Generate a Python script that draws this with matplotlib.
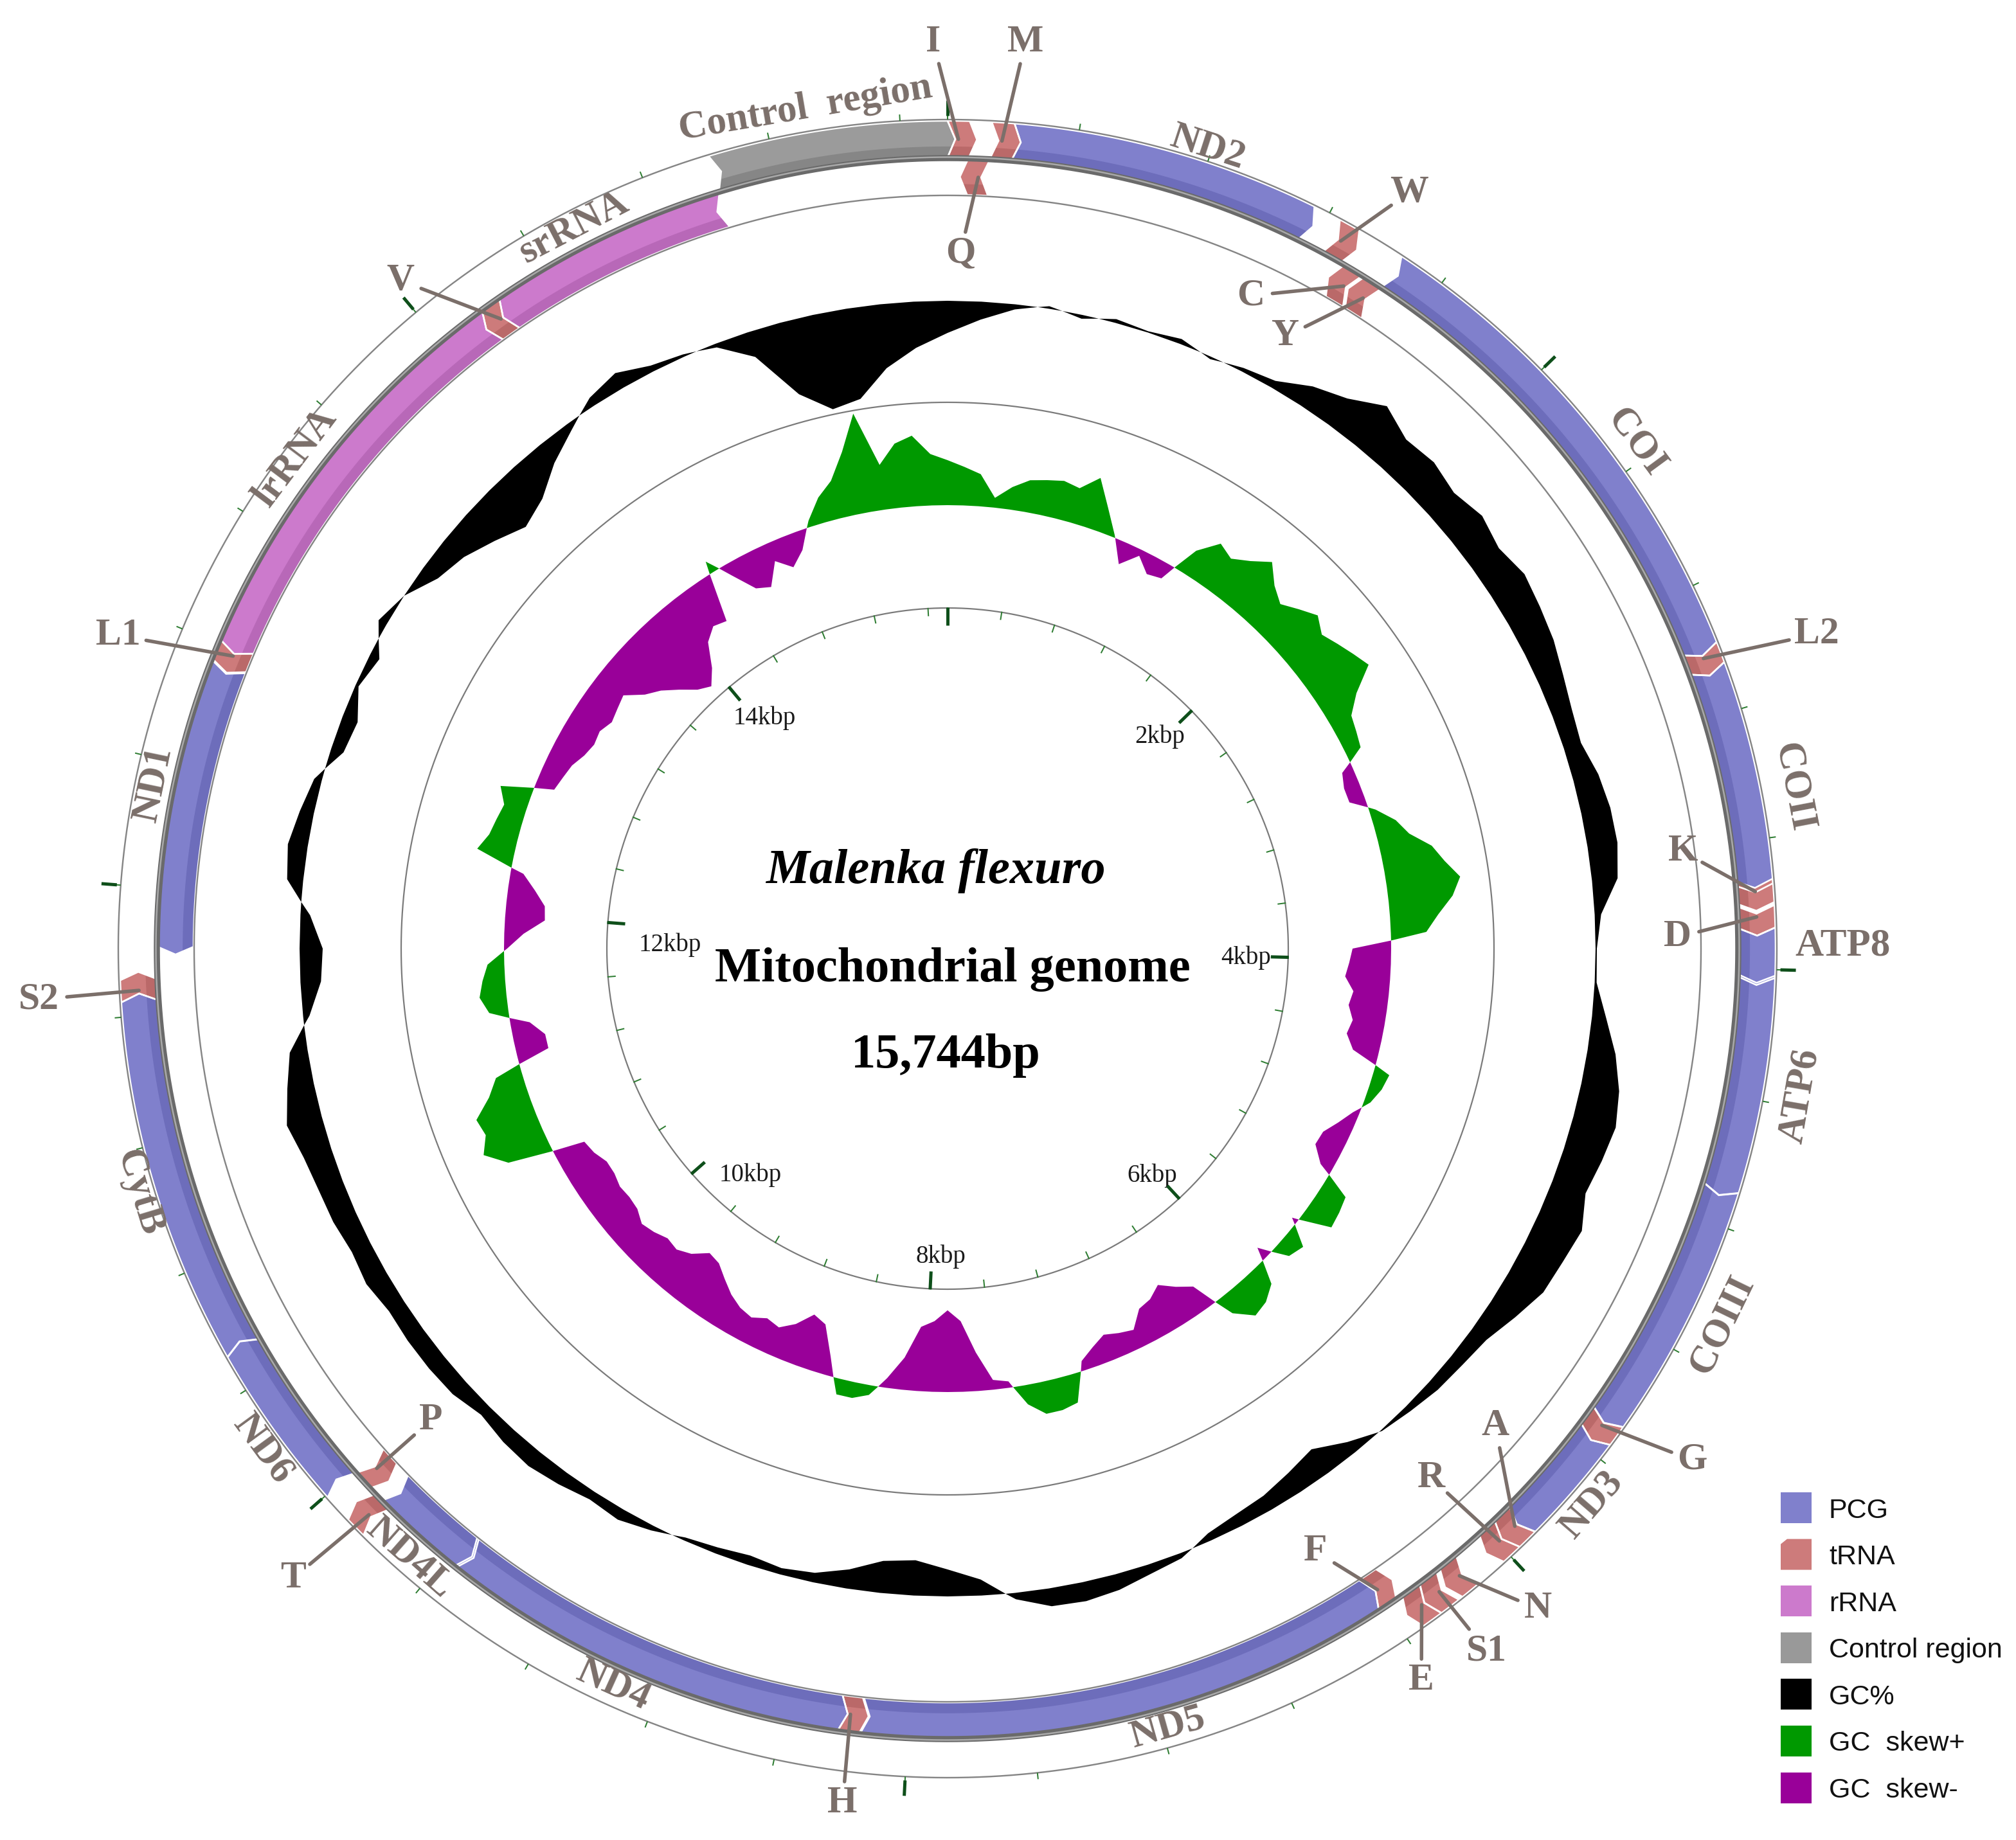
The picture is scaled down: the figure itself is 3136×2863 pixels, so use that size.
import numpy as np
import matplotlib
matplotlib.use("Agg")
import matplotlib.pyplot as plt
from matplotlib.patches import Polygon, Rectangle

# ---------------------------------------------------------------- data
GENOME_LEN = 15744
SPECIES = "Malenka flexuro"

feature_names = ["I", "Q", "M", "ND2", "W", "C", "Y", "COI", "L2", "COII", "K", "D",
                 "ATP8", "ATP6", "COIII", "G", "ND3", "A", "R", "N", "S1", "E", "F",
                 "ND5", "H", "ND4", "ND4L", "T", "P", "ND6", "CytB", "S2", "ND1", "L1",
                 "lrRNA", "V", "srRNA", "Control region"]
feature_start = [1, 66, 135, 204, 1238, 1318, 1392, 1455, 2986, 3051, 3725, 3805,
                 3873, 4019, 4688, 5482, 5548, 5895, 5961, 6125, 6205, 6272, 6360,
                 6426, 8155, 8223, 9554, 9835, 9925, 9993, 10515, 11646, 11815, 12750,
                 12816, 14166, 14233, 15011]
feature_end = [67, 134, 203, 1150, 1304, 1383, 1457, 2985, 3050, 3738, 3795, 3872,
               4025, 4688, 5480, 5547, 5895, 5960, 6026, 6190, 6270, 6338, 6425,
               8150, 8222, 9560, 9870, 9900, 9990, 10515, 11645, 11712, 12745, 12815,
               14165, 14232, 15010, 15744]
feature_strand = [1, -1, 1, 1, 1, -1, -1, 1, 1, 1, 1, 1,
                  1, 1, 1, 1, 1, 1, 1, 1, 1, 1, -1,
                  -1, -1, -1, -1, 1, -1, 1, 1, 1, -1, -1,
                  -1, -1, -1, 1]
feature_type = ["tRNA", "tRNA", "tRNA", "PCG", "tRNA", "tRNA", "tRNA", "PCG", "tRNA", "PCG", "tRNA", "tRNA",
                "PCG", "PCG", "PCG", "tRNA", "PCG", "tRNA", "tRNA", "tRNA", "tRNA", "tRNA", "tRNA",
                "PCG", "tRNA", "PCG", "PCG", "tRNA", "tRNA", "PCG", "PCG", "tRNA", "PCG", "tRNA",
                "rRNA", "tRNA", "rRNA", "Control region"]
feature_label_text = {"Control region": "Control  region"}

# GC content (%) in 120 sliding windows starting at position 1
GENOME_GC = 33.0
gc_percent = [28.0, 30.2, 32.2, 33.4, 32.4, 33.6, 33.2, 33.8, 32.6, 33.6,
              34.2, 36.5, 38.0, 40.8, 38.8, 39.2, 38.2, 39.2, 38.2, 39.2,
              38.6, 38.0, 37.0, 36.2, 35.8, 37.0, 37.6, 37.7, 37.0, 34.0,
              33.2, 33.3, 35.2, 37.4, 39.0, 39.8, 39.2, 38.5, 40.2, 39.6,
              39.2, 37.5, 35.8, 35.2, 34.8, 34.0, 33.2, 31.0, 28.5, 29.5,
              30.5, 31.0, 31.8, 33.8, 34.5, 35.5, 36.0, 35.8, 34.0, 30.5,
              28.8, 27.5, 28.0, 30.0, 31.5, 32.0, 31.5, 32.0, 32.5, 33.8,
              34.8, 34.4, 35.2, 35.8, 35.5, 34.8, 35.8, 36.0, 36.0, 35.8,
              36.6, 36.2, 36.8, 37.0, 37.5, 38.6, 37.2, 35.8, 32.0, 29.8,
              29.4, 31.5, 35.5, 36.1, 35.2, 34.2, 31.0, 30.5, 32.5, 31.4,
              34.4, 33.0, 30.2, 29.0, 27.0, 25.0, 26.4, 29.4, 31.8, 34.4,
              35.6, 34.0, 33.4, 32.4, 29.0, 21.5, 18.0, 18.8, 23.0, 25.8]

# GC skew (G-C)/(G+C) in 180 sliding windows starting at position 1
gc_skew = [0.175, 0.150, 0.125, 0.038, 0.088, 0.125, 0.138, 0.150, 0.138, 0.200,
           0.100, 0.010, -0.088, -0.025, -0.075, -0.062, 0.100, 0.175, 0.150, 0.188,
           0.238, 0.175, 0.138, 0.175, 0.212, 0.175, 0.200, 0.225, 0.250, 0.150,
           0.088, 0.075, 0.062, -0.045, -0.062, -0.062, 0.025, 0.088, 0.125, 0.200,
           0.238, 0.288, 0.250, 0.188, 0.138, -0.150, -0.162, -0.175, -0.138, -0.150,
           -0.125, -0.138, -0.100, 0.062, 0.050, 0.025, -0.025, -0.062, -0.100, -0.105,
           -0.050, 0.100, 0.112, 0.120, -0.025, 0.080, 0.062, -0.050, 0.088, 0.125,
           0.138, 0.075, -0.100, -0.138, -0.182, -0.150, -0.138, -0.075, -0.088, -0.105,
           -0.075, -0.038, 0.112, 0.125, 0.125, 0.075, -0.025, -0.038, -0.150, -0.275,
           -0.318, -0.275, -0.250, -0.125, -0.038, 0.038, 0.062, 0.062, -0.075, -0.188,
           -0.210, -0.150, -0.112, -0.125, -0.100, -0.112, -0.138, -0.175, -0.212, -0.222,
           -0.175, -0.150, -0.158, -0.138, -0.125, -0.150, -0.155, -0.150, -0.162, -0.162,
           -0.138, -0.125, 0.175, 0.250, 0.212, 0.225, 0.150, 0.102, -0.125, -0.125,
           -0.075, 0.075, 0.105, 0.088, 0.065, -0.012, -0.075, -0.155, -0.150, -0.105,
           -0.050, 0.145, 0.112, 0.100, 0.088, 0.125, -0.075, -0.088, -0.100, -0.125,
           -0.138, -0.130, -0.150, -0.138, -0.125, -0.188, -0.225, -0.275, -0.325, -0.352,
           -0.300, -0.212, -0.175, -0.188, 0.050, -0.050, -0.138, -0.160, -0.075, -0.125,
           -0.075, 0.025, 0.100, 0.150, 0.250, 0.388, 0.175, 0.250, 0.275, 0.200]

ruler_major_bp = [0, 2000, 4000, 6000, 8000, 10000, 12000, 14000]
ruler_labels = ["", "2kbp", "4kbp", "6kbp", "8kbp", "10kbp", "12kbp", "14kbp"]
MINOR_STEP_BP = 400

legend_labels = ["PCG", "tRNA", "rRNA", "Control region", "GC%", "GC  skew+", "GC  skew-"]

# ---------------------------------------------------------------- style / layout
W_PX, H_PX, DPI = 3136, 2863, 100
PT = 72.0 / DPI
CX, CY = 1474.0, 1476.0
R_OUTER, R_MAIN, R_INNER = 1290.0, 1230.0, 1172.0
BAND_J = (1231.0, 1288.0)
BAND_N = (1173.0, 1229.0)
R_GC, GC_PX_PER_PCT = 1008.0, 10.0
R_SEP = 850.0
R_SKEW, SKEW_PX = 690.0, 400.0
R_RULER = 530.0
LABEL_COLOR = "#7B6F6A"
SERIF = "Liberation Serif"
SANS = "Liberation Sans"

TYPE_COLORS = {"PCG": ("#8080CC", "#6D6DBB"),
               "tRNA": ("#CD7B7B", "#BA6969"),
               "rRNA": ("#CC7ACC", "#B868B8"),
               "Control region": ("#9B9B9B", "#868686")}
legend_colors = ["#8080CC", "#CD7B7B", "#CC7ACC", "#999999", "#000000", "#009900", "#990099"]
SKEW_POS, SKEW_NEG = "#009900", "#990099"

ruler_label_layout = {"2kbp": (45.0, 467), "4kbp": (91.7, 464), "6kbp": (138.0, 475),
                      "8kbp": (181.3, 479), "10kbp": (221.0, 467), "12kbp": (270.7, 432),
                      "14kbp": (321.5, 458)}
gene_label_layout = {"Control region": (350.4, 1325), "ND2": (18.0, 1310), "COI": (53.7, 1330),
                     "COII": (79.2, 1340), "ATP8": (89.8, 1393), "ATP6": (99.8, 1345),
                     "COIII": (115.9, 1339), "ND3": (130.8, 1323), "ND5": (164.2, 1259),
                     "ND4": (204.4, 1259), "ND4L": (221.4, 1265), "ND6": (233.8, 1319),
                     "CytB": (253.2, 1314), "ND1": (281.7, 1261), "lrRNA": (307.0, 1270),
                     "srRNA": (332.6, 1264)}
horizontal_labels = {"ATP8"}
trna_label_layout = {"I": (359.1, 1410), "M": (4.9, 1415), "Q": (1.06, 1082), "W": (31.4, 1378),
                     "C": (24.9, 1120), "Y": (28.9, 1088), "L2": (70.1, 1438), "K": (82.5, 1154),
                     "D": (89.1, 1136), "G": (124.5, 1405), "A": (131.1, 1131), "R": (137.6, 1116),
                     "N": (138.2, 1378), "S1": (142.5, 1378), "E": (147.1, 1357), "F": (148.6, 1099),
                     "H": (187.0, 1340), "T": (226.1, 1413), "P": (227.6, 1089), "S2": (266.8, 1416),
                     "L1": (290.7, 1379), "V": (320.7, 1343)}


def deg(bp):
    return np.asarray(bp, dtype=float) / GENOME_LEN * 360.0


def pol(theta, r):
    t = np.deg2rad(theta)
    return CX + np.asarray(r) * np.sin(t), CY - np.asarray(r) * np.cos(t)


fig = plt.figure(figsize=(W_PX / DPI, H_PX / DPI), dpi=DPI)
fig.patch.set_facecolor("white")
ax = fig.add_axes([0, 0, 1, 1])
ax.set_xlim(0, W_PX)
ax.set_ylim(H_PX, 0)
ax.axis("off")


def circle(r, color, lw_px, z):
    t = np.linspace(0, 360, 2400)
    x, y = pol(t, r)
    ax.plot(x, y, color=color, lw=lw_px * PT, zorder=z, solid_capstyle="butt")


def with_crossings(th, v):
    th2, v2 = [th[0]], [v[0]]
    for i in range(1, len(th)):
        if v[i - 1] * v[i] < 0:
            f = v[i - 1] / (v[i - 1] - v[i])
            th2.append(th[i - 1] + (th[i] - th[i - 1]) * f)
            v2.append(0.0)
        th2.append(th[i])
        v2.append(v[i])
    return np.array(th2), np.array(v2)


def ring_fill(window_bp, dev_px, base, pos_color, neg_color, z):
    th = np.append(deg(window_bp), 360.0 + deg(window_bp[0]))
    dv = np.append(dev_px, dev_px[0])
    th, dv = with_crossings(th, dv)
    for part, col in ((np.maximum(dv, 0), pos_color), (np.minimum(dv, 0), neg_color)):
        xo, yo = pol(th, base + part)
        xb, yb = pol(th[::-1], np.full(len(th), base))
        ax.fill(np.r_[xo, xb], np.r_[yo, yb], color=col, lw=0, zorder=z)


# GC content ring
gc_window_bp = np.arange(len(gc_percent)) * GENOME_LEN / len(gc_percent)
ring_fill(gc_window_bp, (np.array(gc_percent) - GENOME_GC) * GC_PX_PER_PCT, R_GC,
          "black", "black", 2)

# GC skew ring
skew_window_bp = np.arange(len(gc_skew)) * GENOME_LEN / len(gc_skew)
ring_fill(skew_window_bp, np.array(gc_skew) * SKEW_PX, R_SKEW, SKEW_POS, SKEW_NEG, 2)

circle(R_SEP, "#7A7A7A", 2.2, 3)
circle(R_RULER, "#7A7A7A", 2.2, 3)

# ruler ticks + labels
for bp in range(0, GENOME_LEN, MINOR_STEP_BP):
    t = deg(bp)
    x, y = pol([t, t], [R_RULER - 11, R_RULER])
    ax.plot(x, y, color="#2E7D32", lw=2 * PT, zorder=3)
for bp, lab in zip(ruler_major_bp, ruler_labels):
    t = deg(bp)
    x, y = pol([t, t], [R_RULER - 27, R_RULER + 1])
    ax.plot(x, y, color="#0E4F1A", lw=5 * PT, zorder=3.2, solid_capstyle="butt")
    if lab:
        lt, lr = ruler_label_layout[lab]
        lx, ly = pol(lt, lr)
        ax.text(lx, ly, lab, fontsize=28, family=SERIF, color="#1A1A1A",
                ha="center", va="center", zorder=3)


# genome features
def feature_poly(a, b, strand, r_in, r_out, d_px):
    r_mid = 0.5 * (r_in + r_out)
    d = np.rad2deg(d_px / r_mid)
    arc = np.linspace(a, b, max(int((b - a) / 0.15), 3))
    pts = [pol(t, r_out) for t in arc]
    if strand > 0:
        pts.append(pol(b + d, r_mid))
        pts += [pol(t, r_in) for t in arc[::-1]]
        pts.append(pol(a + d, r_mid))
    else:
        pts.append(pol(b - d, r_mid))
        pts += [pol(t, r_in) for t in arc[::-1]]
        pts.append(pol(a - d, r_mid))
    return np.array(pts)


feature_mid = {}
for name, s, e, strand, ftype in zip(feature_names, feature_start, feature_end,
                                     feature_strand, feature_type):
    a, b = deg(s - 1), deg(e)
    r_in, r_out = BAND_J if strand > 0 else BAND_N
    shape = feature_poly(a, b, strand, r_in, r_out, 12)
    face, dark = TYPE_COLORS[ftype]
    body = Polygon(shape, closed=True, fc=face, ec="none", zorder=4)
    ax.add_patch(body)
    ts = np.linspace(a - 2, b + 2, max(int((b - a + 4) / 0.15), 3))
    r0, r1 = r_in - 2, r_in + 0.30 * (r_out - r_in)
    sx, sy = pol(ts, r1)
    bx, by = pol(ts[::-1], np.full(len(ts), r0))
    strip = Polygon(np.c_[np.r_[sx, bx], np.r_[sy, by]], closed=True, fc=dark, ec="none", zorder=4.1)
    ax.add_patch(strip)
    strip.set_clip_path(body)
    ax.add_patch(Polygon(shape, closed=True, fc="none", ec="white", lw=2.6 * PT, zorder=4.2))
    feature_mid[name] = (0.5 * (a + b), 0.5 * (r_in + r_out))

# backbone circles
circle(R_OUTER, "#858585", 2.4, 5)
circle(R_INNER, "#858585", 2.4, 5)
circle(R_MAIN, "#6A6A6A", 9.5, 5.5)
circle(R_MAIN + 1.5, "#A9A9A9", 2.5, 5.6)

# outer ticks
for bp in range(0, GENOME_LEN, MINOR_STEP_BP):
    t = deg(bp)
    x, y = pol([t, t], [R_OUTER + 1, R_OUTER + 9])
    ax.plot(x, y, color="#2E7D32", lw=2 * PT, zorder=5)
for bp in ruler_major_bp:
    t = deg(bp)
    x, y = pol([t, t], [R_OUTER + 6, R_OUTER + 30])
    ax.plot(x, y, color="#0E4F1A", lw=5 * PT, zorder=5, solid_capstyle="butt")


def tangent_rot(theta):
    t = theta % 360
    return 180 - t if 90 < t < 270 else -t


# gene labels
for name, (t, r) in gene_label_layout.items():
    x, y = pol(t, r)
    rot = 0 if name in horizontal_labels else tangent_rot(t)
    ax.text(x, y, feature_label_text.get(name, name), fontsize=44, family=SERIF,
            fontweight="bold", color=LABEL_COLOR, ha="center", va="center",
            rotation=rot, rotation_mode="anchor", zorder=8)

# tRNA labels with leader lines
for name, (t, r) in trna_label_layout.items():
    lx, ly = pol(t, r)
    mt, mr = feature_mid[name]
    fx, fy = pol(mt, mr)
    dx, dy = fx - lx, fy - ly
    dist = np.hypot(dx, dy)
    off = 24 + 10 * len(name)
    ex, ey = lx + dx / dist * off, ly + dy / dist * off
    ax.plot([fx, ex], [fy, ey], color=LABEL_COLOR, lw=5.5 * PT, zorder=7,
            solid_capstyle="round")
    ax.text(lx, ly, name, fontsize=43, family=SERIF, fontweight="bold", color=LABEL_COLOR,
            ha="center", va="center", zorder=8)

# centre titles
ax.text(1455, 1374, SPECIES, fontsize=55, family=SERIF, fontweight="bold", fontstyle="italic",
        ha="center", va="baseline", color="black", zorder=9)
ax.text(1482, 1527, "Mitochondrial genome", fontsize=55, family=SERIF, fontweight="bold",
        ha="center", va="baseline", color="black", zorder=9)
ax.text(1471, 1661, f"{GENOME_LEN:,}bp", fontsize=55, family=SERIF, fontweight="bold",
        ha="center", va="baseline", color="black", zorder=9)

# legend
for i, (lab, col) in enumerate(zip(legend_labels, legend_colors)):
    yc = 2346 + i * 72.6
    if lab == "tRNA":
        x0, y0, s = 2770, yc - 24, 48
        ax.add_patch(Polygon([[x0, y0 + 8], [x0 + 10, y0], [x0 + s, y0], [x0 + s, y0 + s],
                              [x0, y0 + s]], closed=True, fc=col, ec="none", zorder=9))
    else:
        ax.add_patch(Rectangle((2770, yc - 24), 48, 48, fc=col, ec="none", zorder=9))
    ax.text(2845, yc, lab, fontsize=31, family=SANS, color="#111111",
            ha="left", va="center_baseline", zorder=9)

fig.savefig("out.png", dpi=DPI, facecolor="white")
